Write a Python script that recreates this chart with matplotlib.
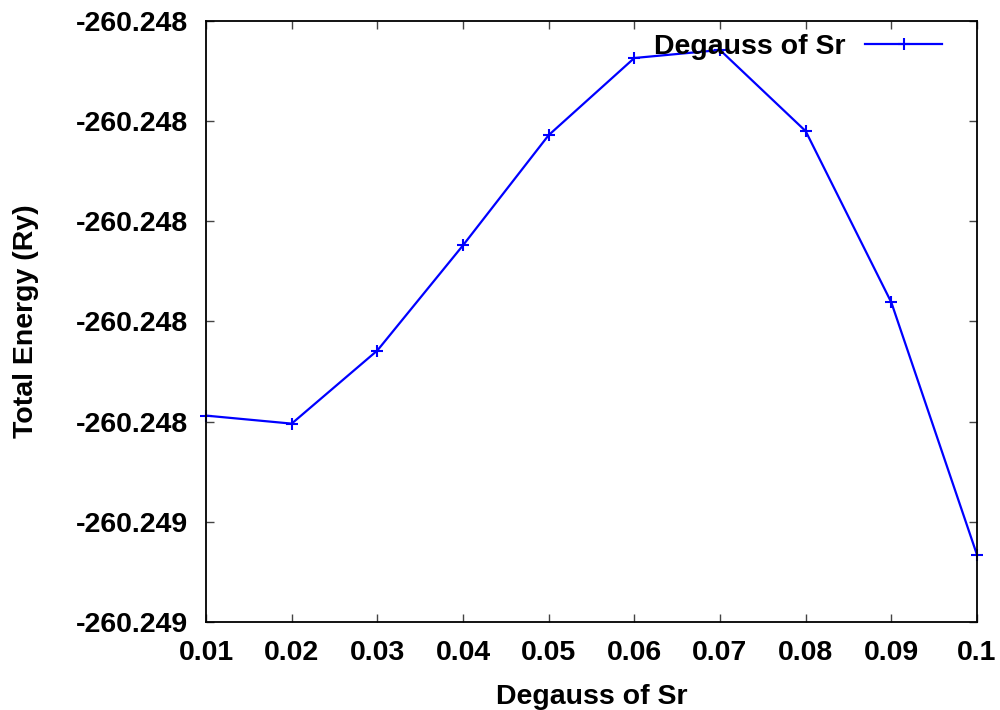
import matplotlib
matplotlib.use('Agg')
import matplotlib.pyplot as plt

plt.rcParams['font.family'] = ['Liberation Sans', 'DejaVu Sans']
plt.rcParams['font.weight'] = 'bold'

degauss = [0.01, 0.02, 0.03, 0.04, 0.05, 0.06, 0.07, 0.08, 0.09, 0.1]
energy = [-260.248394, -260.248402, -260.248329, -260.248224, -260.248114,
          -260.248037, -260.248029, -260.248110, -260.248281, -260.248533]

x_ticks = [0.01, 0.02, 0.03, 0.04, 0.05, 0.06, 0.07, 0.08, 0.09, 0.1]
x_tick_labels = ['0.01', '0.02', '0.03', '0.04', '0.05', '0.06', '0.07', '0.08', '0.09', '0.1']
y_ticks = [-260.2480, -260.2481, -260.2482, -260.2483, -260.2484, -260.2485, -260.2486]
y_tick_labels = ['-260.248', '-260.248', '-260.248', '-260.248', '-260.248', '-260.249', '-260.249']

fs = 20.5

fig = plt.figure(figsize=(10, 7.1), dpi=100)
ax = fig.add_axes([0.206, 0.124, 0.771, 0.8465])

ax.plot(degauss, energy, color='#0000ff', linewidth=1.6, marker='+',
        markersize=9, markeredgewidth=1.5, label='Degauss of Sr', clip_on=False)

ax.set_xlim(0.01, 0.1)
ax.set_ylim(-260.2486, -260.2480)
ax.set_xticks(x_ticks)
ax.set_xticklabels(x_tick_labels)
ax.set_yticks(y_ticks)
ax.set_yticklabels(y_tick_labels)
ax.tick_params(direction='in', top=True, right=True, length=6, width=1,
               labelsize=fs, color='#444444')
ax.tick_params(axis='y', pad=13)
ax.tick_params(axis='x', pad=13)
for s in ax.spines.values():
    s.set_linewidth(1.3)

ax.set_xlabel('Degauss of Sr', fontsize=fs, fontweight='bold')
ax.set_ylabel('Total Energy (Ry)', fontsize=fs, fontweight='bold')
ax.xaxis.set_label_coords(0.5, -0.103)
ax.yaxis.set_label_coords(-0.217, 0.5)

# legend text on the left, sample line on the right (gnuplot style)
ax.legend(loc='center right', bbox_to_anchor=((942 - 206) / 771, (622 - 47) / 601),
          frameon=False, fontsize=fs, markerfirst=False, borderpad=0,
          borderaxespad=0, handlelength=2.7, handletextpad=0.7)

fig.savefig('out.png', dpi=100)
